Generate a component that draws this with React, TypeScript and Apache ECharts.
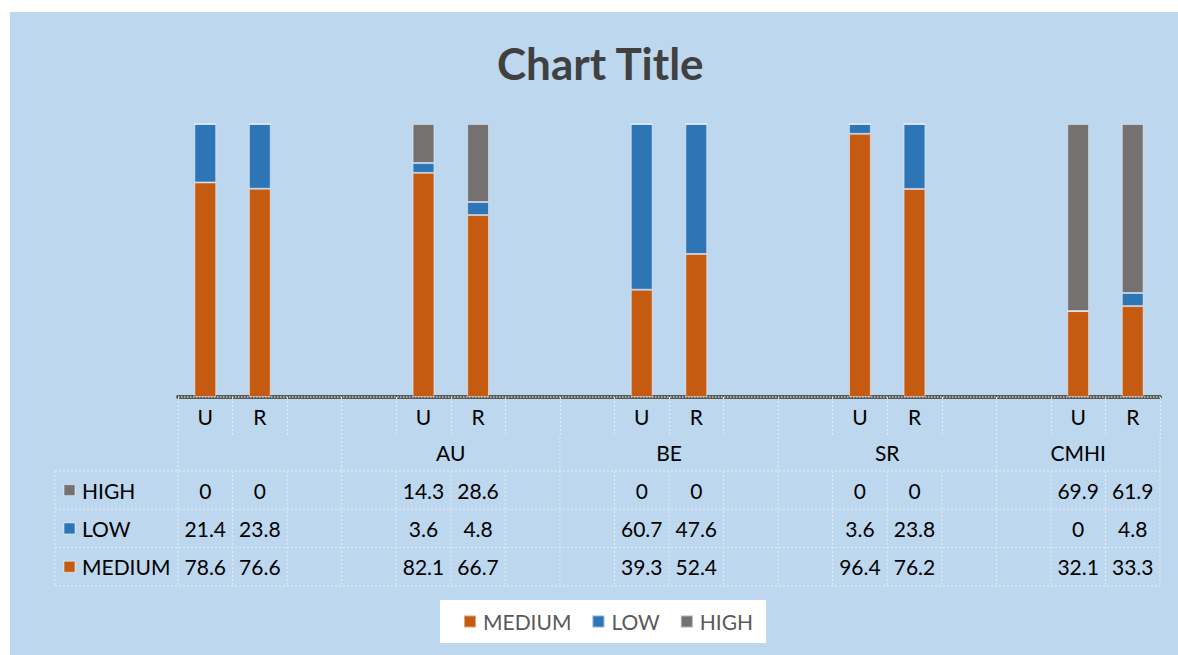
import { useEffect, useRef } from 'react';
import * as echarts from 'echarts';

// Groups along the category axis, each split into U / R columns
const groups = ['', 'AU', 'BE', 'SR', 'CMHI'];
const subgroups = ['U', 'R'];
const seriesNames = ['MEDIUM', 'LOW', 'HIGH'];

// Raw shares per column, in order: (group, subgroup)
const mediumValues = [78.6, 76.6, 82.1, 66.7, 39.3, 52.4, 96.4, 76.2, 32.1, 33.3];
const lowValues = [21.4, 23.8, 3.6, 4.8, 60.7, 47.6, 3.6, 23.8, 0, 4.8];
const highValues = [0, 0, 14.3, 28.6, 0, 0, 0, 0, 69.9, 61.9];

const colors = ['#C55A11', '#2E75B6', '#767171'];
const FONT = 'Lato, "Open Sans", sans-serif';
const TABLE_FONT_SIZE = 21;

type Slot = { label: string; bar: number | null };

// Every group gets an empty spacer slot on each inner side
const slots: Slot[] = [];
const groupSpans: [number, number][] = [];
groups.forEach((_, gi) => {
  const start = slots.length;
  if (gi > 0) slots.push({ label: '', bar: null });
  subgroups.forEach((s, si) => slots.push({ label: s, bar: gi * subgroups.length + si }));
  if (gi < groups.length - 1) slots.push({ label: '', bar: null });
  groupSpans.push([start, slots.length]);
});

const rawSeries = [mediumValues, lowValues, highValues];
const totals = mediumValues.map((_, i) => mediumValues[i] + lowValues[i] + highValues[i]);

// 100% stacked: each column is scaled to its own total
const percentData = (values: number[]) =>
  slots.map((s) => (s.bar === null ? '-' : (values[s.bar] / totals[s.bar]) * 100));

// Data table rows, top to bottom
const tableRows: { name: string; values: number[]; color: string }[] = [
  { name: 'HIGH', values: highValues, color: colors[2] },
  { name: 'LOW', values: lowValues, color: colors[1] },
  { name: 'MEDIUM', values: mediumValues, color: colors[0] },
];

const cellText = (text: string, x: number, y: number, align: 'left' | 'center') => ({
  type: 'text',
  x,
  y,
  style: {
    text,
    fill: '#000000',
    fontSize: TABLE_FONT_SIZE,
    fontFamily: FONT,
    align,
    verticalAlign: 'middle',
    textAlign: align,
    textVerticalAlign: 'middle',
  },
});

export default function App() {
  const ref = useRef<HTMLDivElement>(null);

  useEffect(() => {
    if (!ref.current) return;
    const chart = echarts.init(ref.current, null, { renderer: 'svg' });

    chart.setOption({
      animation: false,
      textStyle: { fontFamily: FONT },
      title: {
        text: 'Chart Title',
        left: 487,
        top: 25,
        padding: 0,
        textStyle: { fontSize: 44, fontWeight: 'bold', color: '#404040', fontFamily: FONT, lineHeight: 52 },
      },
      legend: {
        data: seriesNames,
        left: 430,
        top: 588,
        backgroundColor: '#ffffff',
        padding: [11, 13, 11, 23],
        itemGap: 20,
        itemWidth: 12,
        itemHeight: 12,
        icon: 'rect',
        textStyle: { fontSize: 21, color: '#595959', fontFamily: FONT, padding: [0, 0, 0, 2] },
      },
      grid: { left: 168, right: 18, top: 112, bottom: 258, containLabel: false },
      xAxis: {
        type: 'category',
        data: slots.map((s) => s.label),
        boundaryGap: true,
        axisLine: { show: true, lineStyle: { color: '#595959', width: 4 } },
        axisTick: {
          show: true,
          interval: 0,
          length: 40,
          lineStyle: { color: '#e6ecf2', type: [2, 2], width: 1 },
        },
        axisLabel: { interval: 0, fontSize: TABLE_FONT_SIZE, color: '#000000', margin: 9, fontFamily: FONT },
        splitLine: { show: false },
      },
      yAxis: { type: 'value', min: 0, max: 100, show: false },
      series: seriesNames.map((name, i) => ({
        name,
        type: 'bar',
        stack: 'share',
        barWidth: '40%',
        data: percentData(rawSeries[i]),
        itemStyle: { color: colors[i], borderColor: 'rgba(255,255,255,0.45)', borderWidth: 1 },
        emphasis: { disabled: true },
      })),
    });

    // Data table beneath the axis, placed from the axis' own pixel scale
    const c0 = chart.convertToPixel({ xAxisIndex: 0 }, 0) as number;
    const c1 = chart.convertToPixel({ xAxisIndex: 0 }, 1) as number;
    const band = c1 - c0;
    const edge = (k: number) => c0 - band / 2 + k * band;
    const center = (k: number) => c0 + k * band;
    const axisY = chart.convertToPixel({ yAxisIndex: 0 }, 0) as number;
    const leftX = edge(0) - 123;
    const rightX = edge(slots.length);

    const rowTop = axisY + 74;
    const rowH = 38.3;
    const dotted = { stroke: '#e6ecf2', lineWidth: 1, lineDash: [2, 2] };
    const els: any[] = [];

    // dotted highlight over the thick axis line
    els.push({
      type: 'line',
      shape: { x1: edge(0), y1: axisY, x2: rightX, y2: axisY },
      style: { stroke: '#c9c9c9', lineWidth: 1.5, lineDash: [1.5, 1.5] },
      z: 10,
    });

    // group separators through the group-name row
    const groupEdges = groupSpans.map((g) => g[0]).concat([slots.length]);
    groupEdges.forEach((k) => {
      els.push({
        type: 'line',
        shape: { x1: edge(k), y1: axisY + 40, x2: edge(k), y2: rowTop },
        style: dotted,
      });
    });

    // vertical cell lines in the value rows
    for (let k = 0; k <= slots.length; k++) {
      els.push({
        type: 'line',
        shape: { x1: edge(k), y1: rowTop, x2: edge(k), y2: rowTop + rowH * 3 },
        style: dotted,
      });
    }
    els.push({
      type: 'line',
      shape: { x1: leftX, y1: rowTop, x2: leftX, y2: rowTop + rowH * 3 },
      style: dotted,
    });

    // horizontal row lines
    for (let r = 0; r <= 3; r++) {
      const y = rowTop + r * rowH;
      els.push({ type: 'line', shape: { x1: leftX, y1: y, x2: rightX, y2: y }, style: dotted });
    }

    // group names
    groupSpans.forEach(([a, b], gi) => {
      if (!groups[gi]) return;
      els.push(cellText(groups[gi], (edge(a) + edge(b)) / 2, axisY + 55, 'center'));
    });

    // row keys, names and values
    tableRows.forEach((row, r) => {
      const cy = rowTop + r * rowH + rowH / 2;
      els.push({
        type: 'rect',
        shape: { x: leftX + 9, y: cy - 5.5, width: 11, height: 11 },
        style: { fill: row.color, stroke: 'rgba(255,255,255,0.5)', lineWidth: 1 },
      });
      els.push(cellText(row.name, leftX + 27, cy, 'left'));
      slots.forEach((s, k) => {
        if (s.bar === null) return;
        els.push(cellText(String(row.values[s.bar]), center(k), cy, 'center'));
      });
    });

    chart.setOption({ graphic: els });

    return () => chart.dispose();
  }, []);

  return (
    <div
      ref={ref}
      style={{
        position: 'absolute',
        left: 10,
        top: 12,
        width: 1168,
        height: 643,
        background: '#BDD7EE',
      }}
    />
  );
}
